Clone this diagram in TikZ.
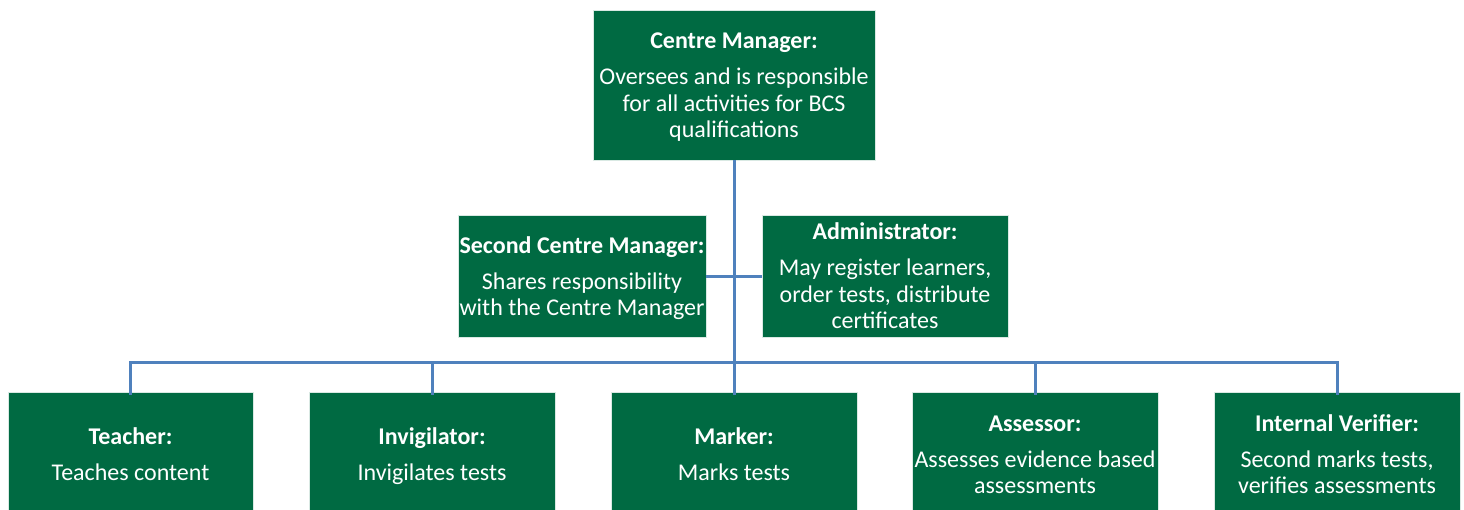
\documentclass[tikz,border=0pt]{standalone}
\usepackage{fontspec}
\setmainfont{Carlito}
\definecolor{cgreen}{RGB}{0,106,66}
\definecolor{cblue}{RGB}{79,129,189}
\newcommand\tstr{\rule{0pt}{24.5pt}}
\begin{document}
\begin{tikzpicture}[x=1pt,y=-1pt,
  rolebox/.style={fill=cgreen, draw=white!85!cgreen, line width=0.8pt, text=white, align=center,
    font=\fontsize{24}{26.5}\selectfont, inner sep=0pt, anchor=center},
  link/.style={draw=cblue, line width=3pt}]
\useasboundingbox (0,0) rectangle (1464,509);
\fill[white] (0,0) rectangle (1464,509);
\node[rolebox, minimum width=282pt, minimum height=150pt] (top) at (734,85)
  {\tstr\textbf{Centre Manager:}\\[9.5pt]Oversees and is responsible\\for all activities for BCS\\qualifications\strut};
\node[rolebox, minimum width=248pt, minimum height=122pt] (scm) at (582,276)
  {\tstr\textbf{Second Centre Manager:}\\[9.5pt]Shares responsibility\\with the Centre Manager\strut};
\node[rolebox, minimum width=246pt, minimum height=122pt] (adm) at (885,276)
  {\tstr\textbf{Administrator:}\\[9.5pt]May register learners,\\order tests, distribute\\certificates\strut};
\node[rolebox, minimum width=245pt, minimum height=124pt] (teach) at (130.5,454)
  {\tstr\textbf{Teacher:}\\[9.5pt]Teaches content\strut};
\node[rolebox, minimum width=246pt, minimum height=124pt] (invig) at (432,454)
  {\tstr\textbf{Invigilator:}\\[9.5pt]Invigilates tests\strut};
\node[rolebox, minimum width=246pt, minimum height=124pt] (mark) at (734,454)
  {\tstr\textbf{Marker:}\\[9.5pt]Marks tests\strut};
\node[rolebox, minimum width=246pt, minimum height=124pt] (assess) at (1035,454)
  {\tstr\textbf{Assessor:}\\[9.5pt]Assesses evidence based\\assessments\strut};
\node[rolebox, minimum width=246pt, minimum height=124pt] (verif) at (1337,454)
  {\tstr\textbf{Internal Verifier:}\\[9.5pt]Second marks tests,\\verifies assessments\strut};
\coordinate (busC) at (734,362);
\coordinate (tA) at ([yshift=-3pt]teach.north);
\coordinate (tB) at ([yshift=-3pt]invig.north);
\coordinate (tC) at ([yshift=-3pt]mark.north);
\coordinate (tD) at ([yshift=-3pt]assess.north);
\coordinate (tE) at ([yshift=-3pt]verif.north);
\draw[link] (top.south) -- (busC);
\draw[link] (scm.east) -- (adm.west);
\draw[link] (tA) -- (tA |- busC) -- (tE |- busC) -- (tE);
\draw[link] (tB) -- (tB |- busC);
\draw[link] (tC) -- (tC |- busC);
\draw[link] (tD) -- (tD |- busC);
\end{tikzpicture}
\end{document}
